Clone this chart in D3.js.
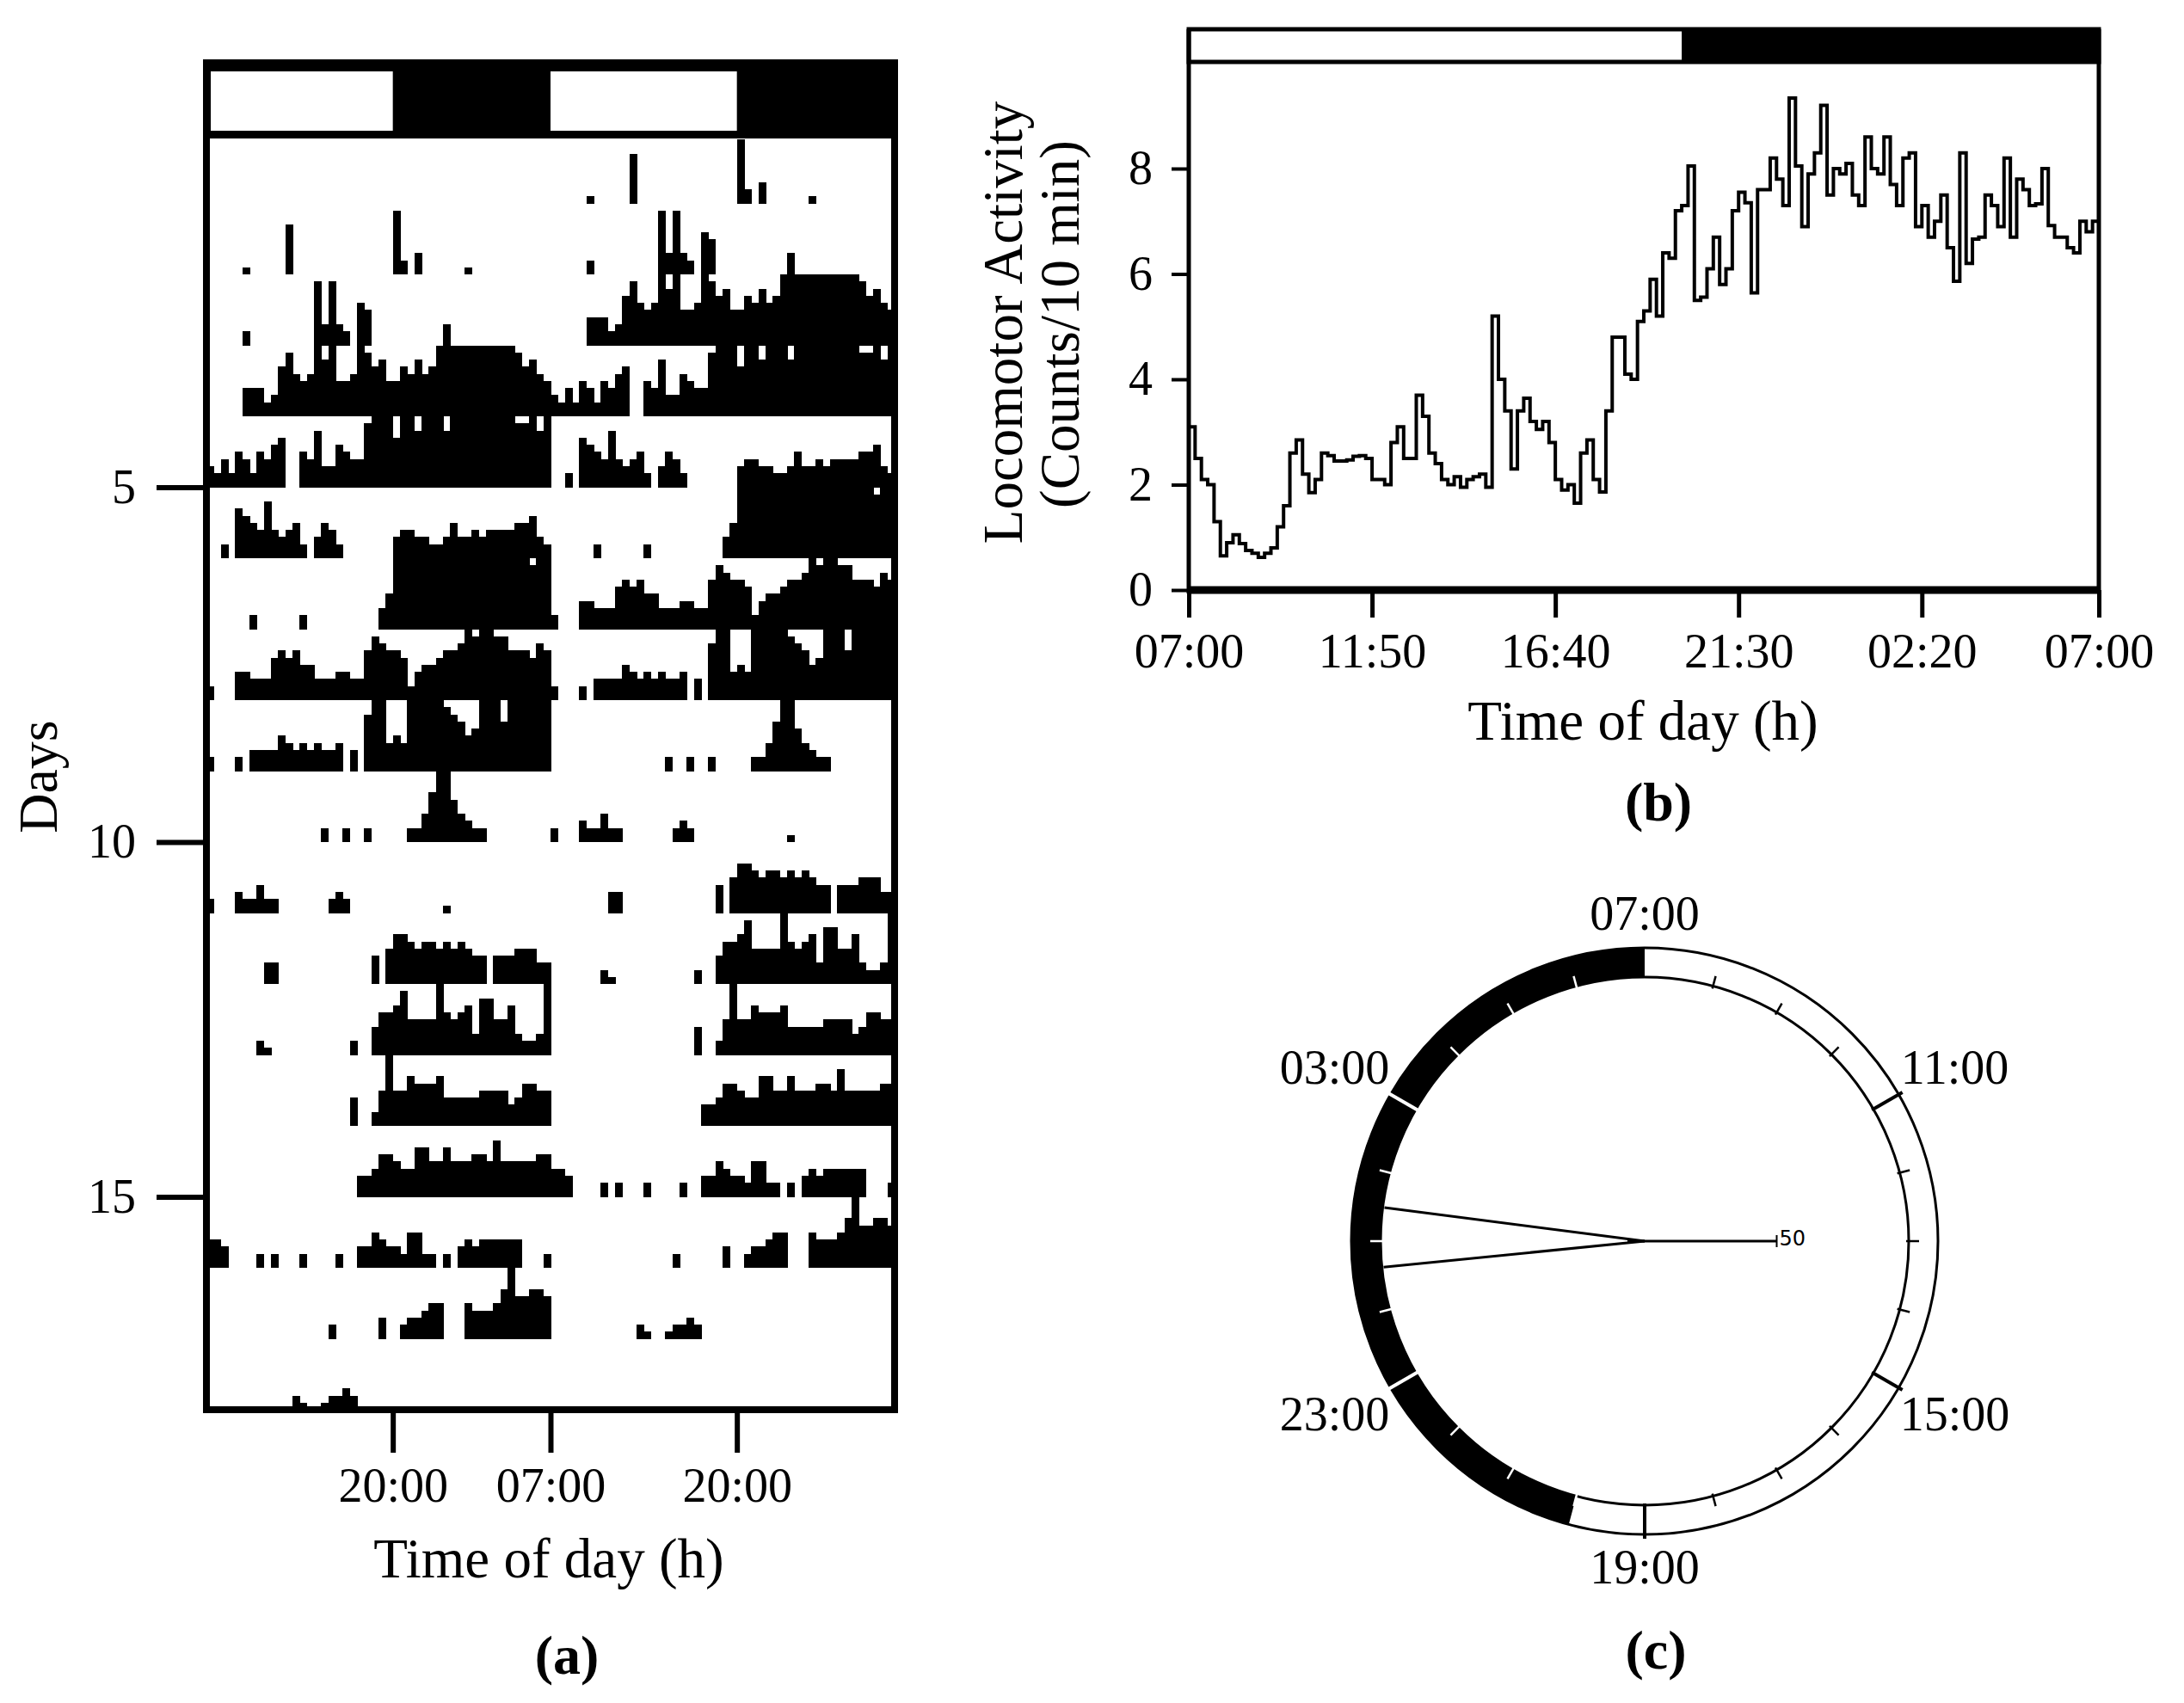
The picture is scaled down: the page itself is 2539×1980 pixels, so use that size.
<!DOCTYPE html>
<html>
<head>
<meta charset="utf-8">
<script src="https://cdn.jsdelivr.net/npm/d3@7"></script>
<style>
  body { margin: 0; background: #fff; }
  svg { display: block; }
</style>
</head>
<body>
<svg id="fig" width="2539" height="1980"></svg>
<script>
// ---------------- data ----------------
// (a) double-plotted actogram: one string per day, 48 half-hour bins from 07:00,
// each char = bar height in tenths of a row ('A' = full row). Row n shows day n and day n+1.
const actogramDays = [
  '00000000 00000000 00000000 00000000 00000000 00000000', // day 1
  '00000100 00070000 00000000 00920300 00001000 00000000',
  '00000200 00000009 39320650 00000000 03000000 00000000',
  '00000444 2379656A 8A556A97 85576867 AAAAAAAA AAA97865',
  '32425425 46700548 3365449A AA7AA8AA A8AAAAAA AAA99A8A', // day 5
  '00207654 84345203 54200000 00344332 23533434 44455632',
  '00000020 00000200 00000000 35AAAAAA AAAAAAAA AAAAA9AA',
  '20004433 36767553 33443379 87762455 6778A9AA 99777687',
  '20002033 33543434 3340308A A454AAAA A98756AA A7AAAAAA',
  '00000000 00000000 20020020 00002247 AA643220 00000000', // day 10
  '20003224 22000000 02320000 00000000 01000000 00000000',
  '00000000 33000000 00000004 05776566 56565440 44455533',
  '00000002 10000000 00002004 66795555 A6567388 5573223A',
  '00000000 00000000 00004002 5A557666 74444455 55346655',
  '00000000 00000000 00000334 66544775 57555665 85555566', // day 15
  '44300002 02000200 00200335 43325522 02034344 44440002',
  '00000000 00000000 02000000 30023345 50005444 57A66776',
  '00000000 00002100 12232000 00000000 00000000 00000000',
  '00000000 00000000 00000000 00000000 00000000 00000000'  // day 19
];
const binHours = 0.5;
const actRows = 18;
const dayTicks = [5, 10, 15];
const actTickHours = [13, 24, 37];            // hours after 07:00 of day 1
const actTickLabels = ['20:00', '07:00', '20:00'];
const lightsOffHour = 13;                       // 20:00, hours after 07:00

// (b) mean activity profile, counts per 10 min, 145 points from 07:00 to 07:00
const profileCounts = [
  3.1, 2.5, 2.1, 2.0, 1.3, 0.65, 0.9, 1.05, 0.88, 0.75, 0.7, 0.62,
  0.7, 0.8, 1.2, 1.6, 2.6, 2.85, 2.2, 1.85, 2.1, 2.6, 2.55, 2.45,
  2.45, 2.47, 2.54, 2.55, 2.5, 2.1, 2.1, 2.0, 2.8, 3.1, 2.5, 2.5,
  3.7, 3.3, 2.6, 2.4, 2.1, 2.0, 2.15, 1.95, 2.1, 2.15, 2.2, 1.95,
  5.2, 4.0, 3.4, 2.3, 3.4, 3.64, 3.2, 3.05, 3.2, 2.8, 2.1, 1.9,
  2.0, 1.65, 2.6, 2.85, 2.1, 1.86, 3.4, 4.8, 4.8, 4.1, 4.0, 5.1,
  5.3, 5.9, 5.2, 6.4, 6.3, 7.2, 7.3, 8.05, 5.5, 5.56, 6.1, 6.7,
  5.8, 6.1, 7.2, 7.55, 7.35, 5.64, 7.6, 7.6, 8.2, 7.8, 7.3, 9.34,
  8.05, 6.9, 7.9, 8.3, 9.2, 7.5, 8.0, 7.9, 8.1, 7.5, 7.3, 8.6,
  8.0, 7.9, 8.6, 7.7, 7.3, 8.2, 8.3, 6.9, 7.3, 6.7, 7.0, 7.5,
  6.5, 5.86, 8.3, 6.2, 6.66, 6.7, 7.5, 7.3, 6.9, 8.2, 6.7, 7.8,
  7.6, 7.3, 7.33, 8.0, 6.92, 6.7, 6.7, 6.5, 6.4, 7.0, 6.8, 7.0,
  7.1
];
const profileStepHours = 1 / 6;
const profileTickHours = [0, 29 / 6, 58 / 6, 14.5, 116 / 6, 24];
const profileTickLabels = ['07:00', '11:50', '16:40', '21:30', '02:20', '07:00'];
const profileYTicks = [0, 2, 4, 6, 8];

// (c) circular phase plot (clock hours)
const clockLabelHours = [7, 11, 15, 19, 23, 3];
const clockLabels = ['07:00', '11:00', '15:00', '19:00', '23:00', '03:00'];
const darkFromClock = 20;
const darkToClock = 7;
const meanPhaseClock = 1.05;
const phaseCI = [0.62, 1.49];
const radialScaleLabel = '50';

// ---------------- drawing ----------------
const SERIF = '"Liberation Serif", "DejaVu Serif", serif';
const svg = d3.select('#fig');
svg.append('rect').attr('width', 2539).attr('height', 1980).attr('fill', '#fff');

function styleAxis(g, lineWidth, fontSize) {
  g.select('.domain').remove();
  g.attr('font-family', SERIF).attr('font-size', fontSize);
  g.selectAll('line').attr('stroke', '#000').attr('stroke-width', lineWidth);
  g.selectAll('text').attr('fill', '#000');
}

// ===== (a) actogram =====
const ax = d3.scaleLinear().domain([0, 48]).range([240, 1040]);
const ay = d3.scaleLinear().domain([0, actRows]).range([154, 1639]);
const rowH = ay(1) - ay(0);
const barTop = 73, barBottom = 161;
const gA = svg.append('g');

gA.append('clipPath').attr('id', 'clipA')
  .append('rect').attr('x', ax(0)).attr('y', barBottom)
  .attr('width', ax(48) - ax(0)).attr('height', ay(actRows) - barBottom);

const days = actogramDays.map(s => Array.from(s.replace(/ /g, ''), c => c === 'A' ? 10 : +c));
const bars = [];
d3.range(actRows).forEach(r => {
  [0, 1].forEach(half => {
    days[r + half].forEach((v, b) => {
      if (v > 0) bars.push({ row: r + 1, t: half * 24 + b * binHours, v });
    });
  });
});

gA.append('g').attr('clip-path', 'url(#clipA)')
  .selectAll('rect').data(bars).join('rect')
  .attr('x', d => ax(d.t))
  .attr('width', ax(binHours) - ax(0) + 0.6)
  .attr('y', d => ay(d.row) - d.v / 10 * rowH)
  .attr('height', d => d.v / 10 * rowH)
  .attr('fill', '#000')
  .attr('shape-rendering', 'crispEdges');

// light/dark bar
const lightA = [];
[0, 24].forEach(off => {
  lightA.push({ from: off, to: off + lightsOffHour, light: true });
  lightA.push({ from: off + lightsOffHour, to: off + 24, light: false });
});
gA.append('rect').attr('x', ax(0)).attr('y', barTop)
  .attr('width', ax(48) - ax(0)).attr('height', barBottom - barTop).attr('fill', '#000');
gA.selectAll('rect.light').data(lightA.filter(d => d.light)).join('rect')
  .attr('class', 'light')
  .attr('x', d => Math.max(ax(d.from), ax(0) + 5))
  .attr('width', d => ax(d.to) - Math.max(ax(d.from), ax(0) + 5))
  .attr('y', barTop + 10).attr('height', barBottom - barTop - 19)
  .attr('fill', '#fff');

gA.append('rect').attr('x', ax(0)).attr('y', barTop)
  .attr('width', ax(48) - ax(0)).attr('height', ay(actRows) - barTop)
  .attr('fill', 'none').attr('stroke', '#000').attr('stroke-width', 8);

const gAx = gA.append('g').attr('transform', `translate(0,${ay(actRows)})`)
  .call(d3.axisBottom(ax).tickValues(actTickHours)
    .tickFormat((d, i) => actTickLabels[i]).tickSize(50).tickPadding(17));
styleAxis(gAx, 6, 56);

const gAy = gA.append('g').attr('transform', `translate(${ax(0)},0)`)
  .call(d3.axisLeft(ay).tickValues(dayTicks).tickSize(58).tickPadding(24));
styleAxis(gAy, 6, 56);

gA.append('text').attr('x', 638).attr('y', 1834).attr('text-anchor', 'middle')
  .attr('font-family', SERIF).attr('font-size', 65).text('Time of day (h)');
gA.append('text').attr('transform', 'translate(66,903) rotate(-90)').attr('text-anchor', 'middle')
  .attr('font-family', SERIF).attr('font-size', 64).text('Days');
gA.append('text').attr('x', 659).attr('y', 1946).attr('text-anchor', 'middle')
  .attr('font-family', SERIF).attr('font-size', 64).attr('font-weight', 'bold').text('(a)');

// ===== (b) activity profile =====
const bx = d3.scaleLinear().domain([0, 24]).range([1382, 2440]);
const by = d3.scaleLinear().domain([0, 8]).range([686, 196]);
const gB = svg.append('g');
const bTop = 34, bBarBottom = 72;

gB.selectAll('rect.ld').data([
  { from: 0, to: lightsOffHour, light: true },
  { from: lightsOffHour, to: 24, light: false }
]).join('rect')
  .attr('class', 'ld')
  .attr('x', d => bx(d.from)).attr('width', d => bx(d.to) - bx(d.from))
  .attr('y', bTop).attr('height', bBarBottom - bTop)
  .attr('fill', d => d.light ? '#fff' : '#000');
gB.append('rect').attr('x', bx(0)).attr('y', bTop)
  .attr('width', bx(24) - bx(0)).attr('height', bBarBottom - bTop)
  .attr('fill', 'none').attr('stroke', '#000').attr('stroke-width', 5);

gB.append('line').attr('x1', bx(0)).attr('x2', bx(0)).attr('y1', bTop).attr('y2', by(0) + 4)
  .attr('stroke', '#000').attr('stroke-width', 5);
gB.append('line').attr('x1', bx(24)).attr('x2', bx(24)).attr('y1', bTop).attr('y2', by(0) + 4)
  .attr('stroke', '#000').attr('stroke-width', 5);

const gBx = gB.append('g').attr('transform', `translate(0,${by(0)})`)
  .call(d3.axisBottom(bx).tickValues(profileTickHours)
    .tickFormat((d, i) => profileTickLabels[i]).tickSize(32).tickPadding(18));
styleAxis(gBx, 5, 56);
gB.append('line').attr('x1', bx(0)).attr('x2', bx(24)).attr('y1', by(0)).attr('y2', by(0))
  .attr('stroke', '#000').attr('stroke-width', 9);

const gBy = gB.append('g').attr('transform', `translate(${bx(0)},0)`)
  .call(d3.axisLeft(by).tickValues(profileYTicks).tickSize(20).tickPadding(22));
styleAxis(gBy, 4, 56);

const profileLine = d3.line()
  .x((d, i) => bx(i * profileStepHours))
  .y(d => by(d))
  .curve(d3.curveStepAfter);
gB.append('path').datum(profileCounts).attr('d', profileLine)
  .attr('fill', 'none').attr('stroke', '#000').attr('stroke-width', 4);

gB.append('text').attr('x', 1910).attr('y', 860).attr('text-anchor', 'middle')
  .attr('font-family', SERIF).attr('font-size', 65).text('Time of day (h)');
gB.append('text').attr('transform', 'translate(1188,375) rotate(-90)').attr('text-anchor', 'middle')
  .attr('font-family', SERIF).attr('font-size', 65).text('Locomotor Activity');
gB.append('text').attr('transform', 'translate(1254,377) rotate(-90)').attr('text-anchor', 'middle')
  .attr('font-family', SERIF).attr('font-size', 65).text('(Counts/10 min)');
gB.append('text').attr('x', 1928).attr('y', 954).attr('text-anchor', 'middle')
  .attr('font-family', SERIF).attr('font-size', 64).attr('font-weight', 'bold').text('(b)');

// ===== (c) circular phase plot =====
const cx = 1912, cy = 1443, rIn = 307, rOut = 341;
const clockAngle = h => ((((h - 7) % 24) + 24) % 24) * Math.PI / 12;
const polar = (h, r) => [cx + r * Math.sin(clockAngle(h)), cy - r * Math.cos(clockAngle(h))];
const isDark = h => h >= darkFromClock || h < darkToClock;
const gC = svg.append('g');

gC.append('path')
  .attr('transform', `translate(${cx},${cy})`)
  .attr('d', d3.arc().innerRadius(rIn).outerRadius(rOut).startAngle(0).endAngle(2 * Math.PI)())
  .attr('fill', '#fff');
const darkSpan = ((darkToClock - darkFromClock + 24) % 24) * Math.PI / 12;
gC.append('path')
  .attr('transform', `translate(${cx},${cy})`)
  .attr('d', d3.arc().innerRadius(rIn).outerRadius(rOut)
    .startAngle(clockAngle(darkFromClock)).endAngle(clockAngle(darkFromClock) + darkSpan)())
  .attr('fill', '#000');
[rIn, rOut].forEach(r => {
  gC.append('circle').attr('cx', cx).attr('cy', cy).attr('r', r)
    .attr('fill', 'none').attr('stroke', '#000').attr('stroke-width', 3);
});

const hourTicks = d3.range(24).filter(h => h !== 7);
gC.selectAll('line.hr').data(hourTicks).join('line')
  .attr('class', 'hr')
  .each(function (h) {
    const major = clockLabelHours.includes(h);
    const [x1, y1] = polar(h, major ? rIn - 2 : rIn - 3);
    const [x2, y2] = polar(h, major ? rOut + 5 : rIn + 12);
    d3.select(this).attr('x1', x1).attr('y1', y1).attr('x2', x2).attr('y2', y2);
  })
  .attr('stroke', h => isDark(h) ? '#fff' : '#000')
  .attr('stroke-width', h => clockLabelHours.includes(h) ? 4 : 2.5);

gC.selectAll('text.clk').data(clockLabelHours).join('text')
  .attr('class', 'clk')
  .each(function (h, i) {
    const a = clockAngle(h);
    const r = 380 + 42 * Math.abs(Math.sin(a));
    const x = cx + r * Math.sin(a);
    const y = cy - 380 * Math.cos(a) * (Math.abs(Math.sin(a)) > 0.1 ? 1.06 : 1);
    d3.select(this).attr('x', x).attr('y', y).text(clockLabels[i]);
  })
  .attr('dy', '0.33em').attr('text-anchor', 'middle')
  .attr('font-family', SERIF).attr('font-size', 56);

// 95% confidence wedge of the mean phase
phaseCI.forEach(h => {
  const [x, y] = polar(h, rIn - 2);
  gC.append('line').attr('x1', cx).attr('y1', cy).attr('x2', x).attr('y2', y)
    .attr('stroke', '#000').attr('stroke-width', 3);
});
const [mx, my] = polar(meanPhaseClock, 20);
gC.append('line').attr('x1', cx).attr('y1', cy).attr('x2', mx).attr('y2', my)
  .attr('stroke', '#000').attr('stroke-width', 3);

// radial scale bar
const rScaleEnd = cx + rIn * 0.5;
gC.append('line').attr('x1', cx).attr('y1', cy).attr('x2', rScaleEnd).attr('y2', cy)
  .attr('stroke', '#000').attr('stroke-width', 3);
gC.append('line').attr('x1', rScaleEnd).attr('y1', cy - 7).attr('x2', rScaleEnd).attr('y2', cy + 7)
  .attr('stroke', '#000').attr('stroke-width', 2);
gC.append('text').attr('x', rScaleEnd + 3).attr('y', cy - 3).attr('dy', '0.35em')
  .attr('font-family', '"DejaVu Sans", sans-serif').attr('font-size', 24).text(radialScaleLabel);

gC.append('text').attr('x', 1925).attr('y', 1940).attr('text-anchor', 'middle')
  .attr('font-family', SERIF).attr('font-size', 64).attr('font-weight', 'bold').text('(c)');
</script>
</body>
</html>
